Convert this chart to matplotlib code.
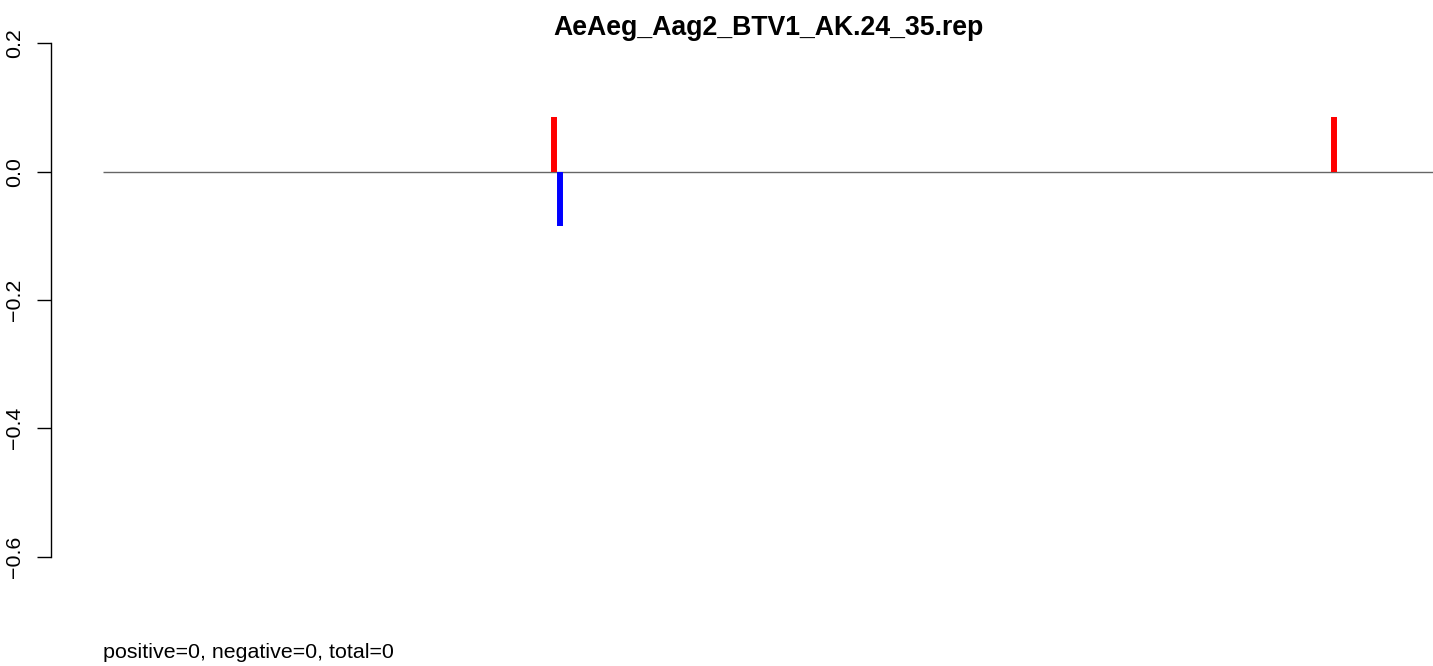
import matplotlib
matplotlib.use("Agg")
import matplotlib.pyplot as plt

title = "AeAeg_Aag2_BTV1_AK.24_35.rep"
footer = "positive=0, negative=0, total=0"

# positions on a 0..1000 scale along the sequence
pos_x = [338.8, 925.6]
pos_y = [0.085, 0.085]
neg_x = [343.3]
neg_y = [-0.085]
line_x = [0, 1000]
yticks = [-0.6, -0.4, -0.2, 0.0, 0.2]
ytick_labels = ["\u22120.6", "\u22120.4", "\u22120.2", "0.0", "0.2"]

W, H, DPI = 1433, 666, 100
fig = plt.figure(figsize=(W / DPI, H / DPI), dpi=DPI)
plt.rcParams['font.family'] = ['Liberation Sans', 'DejaVu Sans']

left_px, right_px = 103, 1433
top_px, bot_px = 43.3, 556.7
ax = fig.add_axes([left_px / W, 1 - bot_px / H, (right_px - left_px) / W, (bot_px - top_px) / H])
ax.set_xlim(0, 1000)
ax.set_ylim(-0.6, 0.2)

ax.plot(line_x, [0, 0], color="#666666", lw=1.0, solid_capstyle="butt")
ax.vlines(pos_x, 0, pos_y, color="red", lw=4.3)
ax.vlines(neg_x, 0, neg_y, color="blue", lw=4.3)

for s in ["top", "right", "bottom"]:
    ax.spines[s].set_visible(False)
ax.spines["left"].set_position(("outward", (left_px - 51) * 72 / DPI))
ax.spines["left"].set_bounds(-0.6, 0.2)
ax.spines["left"].set_linewidth(1.0)
ax.set_xticks([])
ax.set_yticks(yticks)
ax.set_yticklabels(ytick_labels, rotation=90, va="center", fontsize=15.4)
ax.tick_params(axis="y", length=14 * 72 / DPI, width=1.0, pad=9.5)

fig.text(768 / W, 1 - 28 / H, title, ha="center", va="center", fontsize=19.2, fontweight="bold")
fig.text(103 / W, 1 - 653 / H, footer, ha="left", va="center", fontsize=15.4)

fig.savefig("out.png", dpi=DPI)
